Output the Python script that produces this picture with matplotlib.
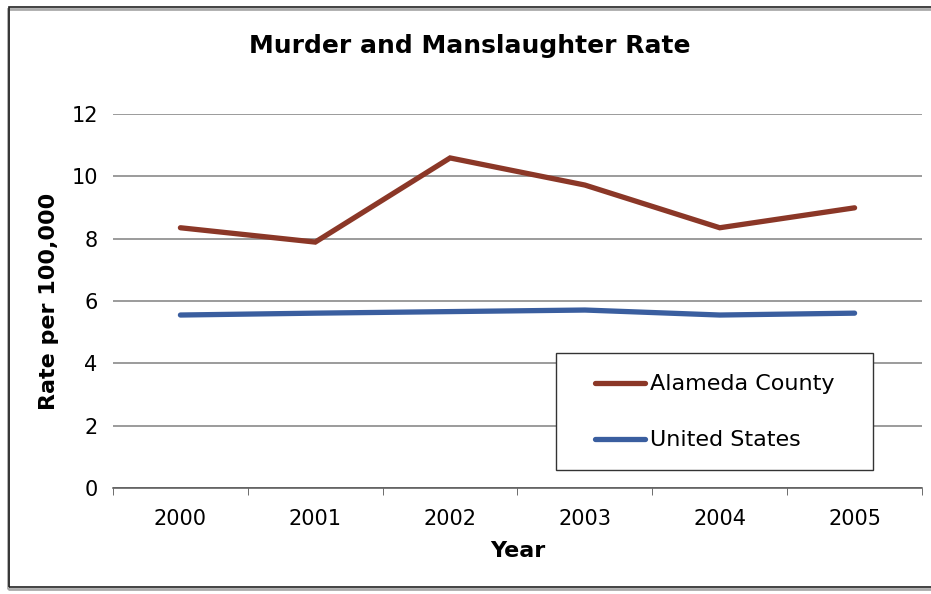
import matplotlib.pyplot as plt
from matplotlib.patches import Rectangle

# Chart data
years = ["2000", "2001", "2002", "2003", "2004", "2005"]
alameda = [8.35, 7.89, 10.59, 9.72, 8.35, 8.99]
united_states = [5.55, 5.61, 5.66, 5.71, 5.55, 5.61]

plt.rcParams['font.family'] = ['DejaVu Sans']

fig = plt.figure(figsize=(9.31, 5.94), dpi=100)
ax = fig.add_axes([113 / 931, 1 - 488 / 594, (922 - 113) / 931, (488 - 114) / 594])

x = list(range(len(years)))
ax.plot(x, alameda, color='#8B3727', lw=3.8, solid_capstyle='round',
        solid_joinstyle='miter', label='Alameda County', zorder=3)
ax.plot(x, united_states, color='#3A5E9F', lw=3.8, solid_capstyle='round',
        solid_joinstyle='miter', label='United States', zorder=3)

ax.set_xlim(-0.5, len(years) - 0.5)
ax.set_ylim(0, 12)
ax.set_yticks(range(0, 13, 2))
ax.set_xticks(x)
ax.set_xticklabels(years)
ax.set_xticks([i - 0.5 for i in range(len(years) + 1)], minor=True)
ax.tick_params(axis='x', which='major', length=0, pad=15, labelsize=15)
ax.tick_params(axis='x', which='minor', length=5, direction='out', color='#555555')
ax.tick_params(axis='y', length=0, pad=11, labelsize=15)

ax.grid(axis='y', color='#808080', lw=1.1)
ax.set_axisbelow(True)
for s in ['top', 'right', 'left']:
    ax.spines[s].set_visible(False)
ax.spines['bottom'].set_color('#555555')
ax.spines['bottom'].set_linewidth(1.1)

ax.set_title("Murder and Manslaughter Rate", fontsize=18, fontweight='bold',
             pad=44, x=0.441)
ax.set_xlabel("Year", fontsize=16, fontweight='bold', labelpad=9)
ax.set_ylabel("Rate per 100,000", fontsize=16, fontweight='bold', labelpad=9)

# legend box drawn separately so it can match the reference size
box = Rectangle((443 / 809, 18 / 374), 317 / 809, 117 / 374, transform=ax.transAxes,
                facecolor='white', edgecolor='#333333', lw=1.0, zorder=4)
ax.add_patch(box)
leg = ax.legend(loc='center left', bbox_to_anchor=(482 / 809, 75.5 / 374),
                fontsize=16, frameon=False, borderaxespad=0, borderpad=0,
                handlelength=2.25, handletextpad=0.22, labelspacing=1.62)
leg.set_zorder(5)

# outer chart border
fig.patches.append(Rectangle((8 / 931, 5 / 594), 930 / 931, 580 / 594,
                             transform=fig.transFigure, fill=False,
                             edgecolor='#aaaaaa', lw=2.0, zorder=0))
fig.patches.append(Rectangle((9 / 931, 7 / 594), 930 / 931, 580 / 594,
                             transform=fig.transFigure, fill=False,
                             edgecolor='#222222', lw=1.2, zorder=1))

fig.savefig("out.png", dpi=100)
